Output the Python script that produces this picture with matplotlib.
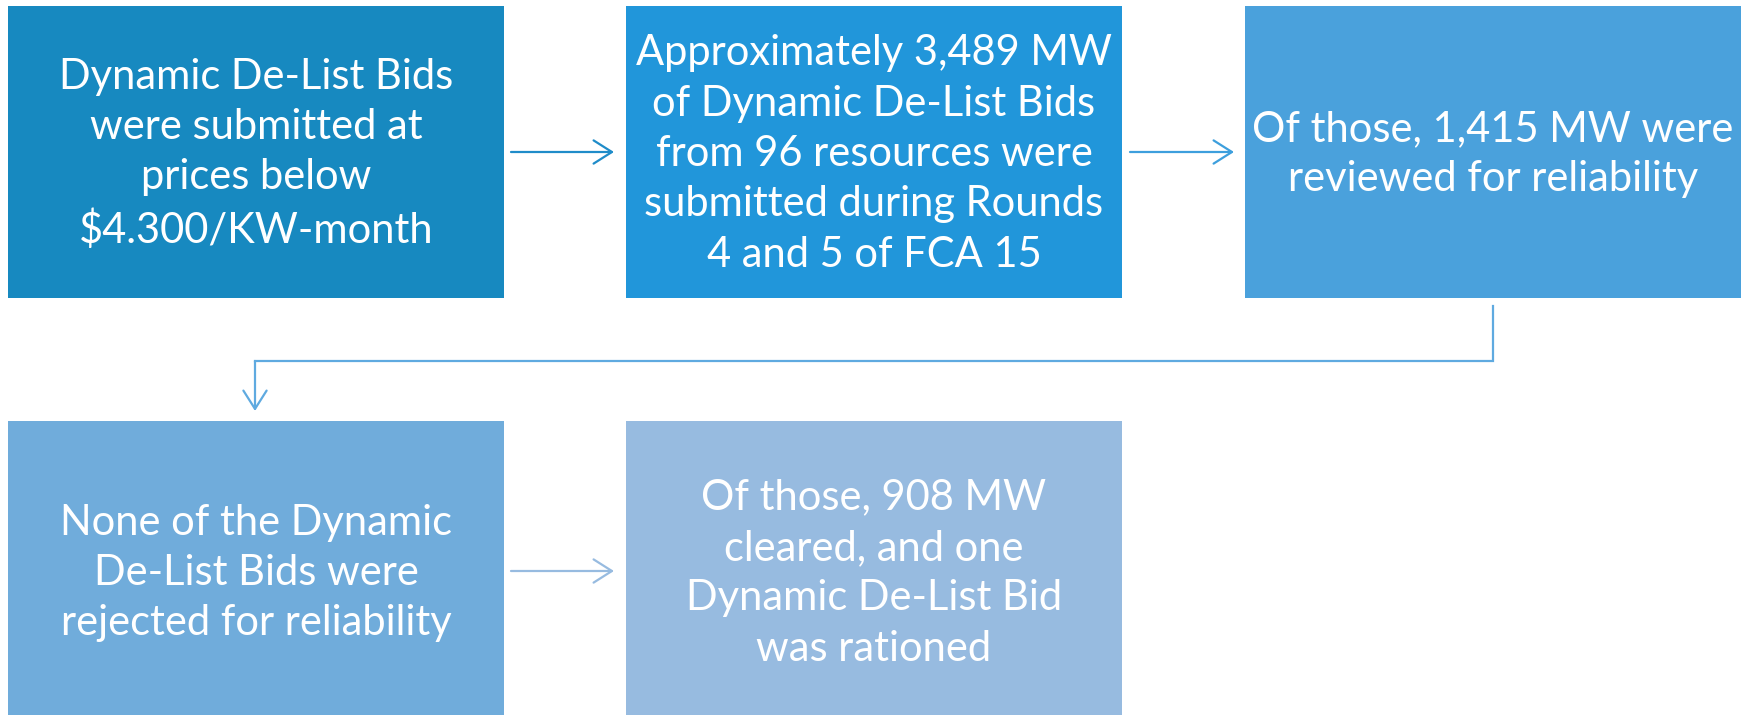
import matplotlib
matplotlib.use("Agg")
import matplotlib.pyplot as plt
from matplotlib.patches import Rectangle, FancyArrowPatch

# ---- content ----
box_texts = [
    "Dynamic De-List Bids\nwere submitted at\nprices below\n$4.300/KW-month",
    "Approximately 3,489 MW\nof Dynamic De-List Bids\nfrom 96 resources were\nsubmitted during Rounds\n4 and 5 of FCA 15",
    "Of those, 1,415 MW were\nreviewed for reliability",
    "None of the Dynamic\nDe-List Bids were\nrejected for reliability",
    "Of those, 908 MW\ncleared, and one\nDynamic De-List Bid\nwas rationed",
]
box_colors = ["#1789C0", "#2196DA", "#4AA1DC", "#70ACDB", "#97BBE0"]
arrow_colors = ["#1F8CC9", "#3D9FDD", "#5FAAE0", "#97BBE0"]

# ---- layout (pixel space, y downwards) ----
W, H = 1746, 715
fig = plt.figure(figsize=(W / 100, H / 100), dpi=100)
ax = fig.add_axes([0, 0, 1, 1])
ax.set_xlim(0, W)
ax.set_ylim(H, 0)
ax.axis("off")

col_x = [8, 626, 1245]
box_w = 496
row_y = [6, 421]
box_h = [292, 300]
positions = [(col_x[0], row_y[0]), (col_x[1], row_y[0]), (col_x[2], row_y[0]),
             (col_x[0], row_y[1]), (col_x[1], row_y[1])]
heights = [box_h[0]] * 3 + [box_h[1]] * 2

plt.rcParams['font.family'] = ['Lato', 'DejaVu Sans']

for (x, y), h, txt, c in zip(positions, heights, box_texts, box_colors):
    ax.add_patch(Rectangle((x, y), box_w, h, facecolor=c, edgecolor="none"))
    ax.text(x + box_w / 2, y + h / 2 + 2, txt, ha="center", va="center",
            color="white", fontsize=30, linespacing=1.4, family=['Lato', 'DejaVu Sans'])

def arrow(p0, p1, color):
    a = FancyArrowPatch(p0, p1, arrowstyle="->,head_length=0.6,head_width=0.38",
                        mutation_scale=22, color=color, lw=1.6,
                        shrinkA=0, shrinkB=0)
    ax.add_patch(a)

# row 1 arrows
arrow((511, 152), (614, 152), arrow_colors[0])
arrow((1130, 152), (1234, 152), arrow_colors[1])
# connector from box 3 down to box 4
ax.plot([1493, 1493, 255], [306, 361, 361], color=arrow_colors[2], lw=1.6,
        solid_joinstyle="miter")
arrow((255, 361), (255, 411), arrow_colors[2])
# row 2 arrow
arrow((511, 571), (614, 571), arrow_colors[3])

fig.savefig("out.png", dpi=100, facecolor="white")
